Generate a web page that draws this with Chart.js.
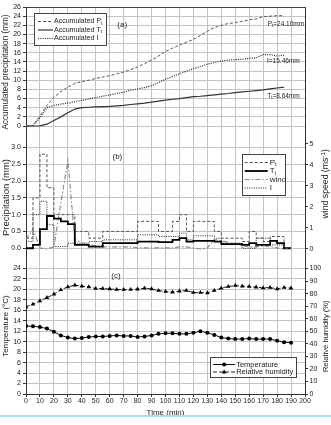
<!DOCTYPE html>
<html>
<head>
<meta charset="utf-8">
<script src="https://cdn.jsdelivr.net/npm/chart.js@4.4.1/dist/chart.umd.min.js"></script>
<style>
  html, body { margin: 0; padding: 0; background: #fff; }
  #wrap { position: relative; width: 331px; height: 425px; }
  #rule { position: absolute; left: 0; top: 415px; width: 331px; height: 2px; background: #abdcea; }
</style>
</head>
<body>
<div id="wrap">
  <canvas id="grafico" width="331" height="425"></canvas>
  <div id="rule"></div>
</div>
<script>
// (a) accumulated precipitation, every 5 min
const timeAcc = [0, 5, 10, 15, 20, 25, 30, 35, 40, 45, 50, 55, 60, 65, 70, 75, 80, 85, 90, 95, 100, 105, 110, 115, 120, 125, 130, 135, 140, 145, 150, 155, 160, 165, 170, 175, 180, 185];
const accP = [0, 0.1, 2.2, 4.5, 6.3, 7.5, 8.5, 9.3, 9.7, 10.0, 10.4, 10.7, 11.0, 11.4, 11.8, 12.3, 12.9, 13.6, 14.4, 15.3, 16.3, 17.0, 17.7, 18.3, 18.9, 19.8, 20.7, 21.5, 22.0, 22.4, 22.6, 22.9, 23.2, 23.4, 23.9, 24.0, 24.1, 24.1];
const accT = [0, 0, 0.05, 0.4, 1.2, 2.0, 2.9, 3.7, 4.0, 4.1, 4.2, 4.25, 4.3, 4.4, 4.5, 4.7, 4.85, 5.0, 5.2, 5.45, 5.65, 5.85, 6.0, 6.2, 6.4, 6.5, 6.65, 6.8, 6.95, 7.1, 7.3, 7.45, 7.6, 7.75, 7.9, 8.1, 8.3, 8.5];
const accI = [0, 0.1, 1.8, 4.0, 4.5, 4.8, 5.0, 5.3, 5.6, 5.9, 6.2, 6.5, 6.8, 7.1, 7.4, 7.8, 8.1, 8.4, 8.8, 9.5, 10.2, 10.8, 11.4, 12.0, 12.5, 13.0, 13.5, 13.9, 14.2, 14.4, 14.5, 14.6, 14.8, 14.9, 15.6, 15.6, 15.3, 15.46];

// (b) precipitation per 5 min interval (value holds from t to t+5) and wind speed
const timeStep = [0, 5, 10, 15, 20, 25, 30, 35, 40, 45, 50, 55, 60, 65, 70, 75, 80, 85, 90, 95, 100, 105, 110, 115, 120, 125, 130, 135, 140, 145, 150, 155, 160, 165, 170, 175, 180, 185, 190];
const stepP = [0.3, 1.5, 2.8, 1.8, 1.0, 1.0, 1.0, 0.5, 0.5, 0.3, 0.3, 0.5, 0.5, 0.5, 0.5, 0.5, 0.8, 0.8, 0.8, 0.5, 0.5, 0.8, 1.0, 0.5, 0.8, 0.8, 0.8, 0.5, 0.3, 0.3, 0.3, 0.2, 0.5, 0.3, 0.2, 0.35, 0.35, 0, 0];
const stepT = [0.0, 0.1, 0.57, 0.96, 0.88, 0.8, 0.72, 0.1, 0.1, 0.05, 0.05, 0.15, 0.15, 0.15, 0.15, 0.15, 0.2, 0.2, 0.2, 0.18, 0.18, 0.25, 0.3, 0.2, 0.22, 0.22, 0.22, 0.2, 0.12, 0.12, 0.12, 0.1, 0.15, 0.1, 0.1, 0.22, 0.15, 0, 0];
const stepI = [0.2, 1.0, 1.4, 0.7, 0.05, 0.05, 0.15, 0.15, 0.15, 0.2, 0.2, 0.25, 0.25, 0.25, 0.25, 0.25, 0.4, 0.4, 0.4, 0.35, 0.35, 0.35, 0.45, 0.25, 0.37, 0.37, 0.37, 0.3, 0.15, 0.15, 0.15, 0, 0, 0.3, 0.3, 0.1, 0.1, 0, 0];
const timeWind = [0, 5, 10, 15, 20, 25, 30, 35, 40, 45, 50, 55, 60, 65, 70, 75, 80, 85, 90, 95, 100, 105, 110, 115, 120, 125, 130, 135, 140, 145, 150, 155, 160, 165, 170, 175, 180, 185];
const wind = [0.45, 0.95, 0.05, 0.0, 0.1, 2.2, 4.2, 0.45, 0.3, 0.2, 0.15, 0.1, 0.1, 0.1, 0.1, 0.1, 0.05, 0.05, 0.05, 0.05, 0.05, 0.05, 0.1, 0.1, 0.05, 0.0, 0.05, 0.45, 0.4, 0.3, 0.25, 0.15, 0.1, 0.1, 0.15, 0.1, 0.05, 0.0];

// (c) temperature and relative humidity
const timeMet = [0, 5, 10, 15, 20, 25, 30, 35, 40, 45, 50, 55, 60, 65, 70, 75, 80, 85, 90, 95, 100, 105, 110, 115, 120, 125, 130, 135, 140, 145, 150, 155, 160, 165, 170, 175, 180, 185, 190];
const temperature = [13.0, 12.95, 12.8, 12.5, 11.9, 11.2, 10.8, 10.6, 10.7, 10.9, 11.0, 11.0, 11.1, 11.2, 11.1, 11.1, 10.9, 11.0, 11.2, 11.5, 11.6, 11.6, 11.5, 11.5, 11.7, 12.0, 11.7, 11.3, 10.8, 10.6, 10.5, 10.5, 10.6, 10.5, 10.5, 10.5, 10.2, 9.9, 9.8];
const humidity = [69.4, 71.5, 74.1, 76.8, 79.5, 83.0, 85.3, 86.7, 85.9, 85.3, 84.0, 84.0, 83.7, 83.2, 83.2, 83.2, 83.5, 84.3, 83.7, 82.4, 81.6, 81.1, 81.9, 82.4, 80.8, 80.8, 80.5, 82.4, 84.3, 85.6, 86.4, 85.9, 85.6, 85.1, 84.5, 84.8, 83.7, 84.8, 84.3];

const FONT = "'Liberation Sans', Arial, sans-serif";
const GRID = '#c4c4c4';
const AXIS = '#333';

const xy = (ts, vs) => ts.map((t, i) => ({ x: t, y: vs[i] }));

// draw text made of pieces, some as sub/superscript
function richText(ctx, parts, x, y, align, size) {
  const fontOf = p => (p[1] ? size * 0.72 : size) + 'px ' + FONT;
  let w = 0;
  parts.forEach(p => { ctx.font = fontOf(p); w += ctx.measureText(p[0]).width; });
  let cx = align === 'right' ? x - w : (align === 'center' ? x - w / 2 : x);
  ctx.textAlign = 'left';
  parts.forEach(p => {
    ctx.font = fontOf(p);
    let dy = 0;
    if (p[1] === 'sub') dy = size * 0.3;
    if (p[1] === 'sup') dy = -size * 0.3;
    ctx.fillText(p[0], cx, y + dy);
    cx += ctx.measureText(p[0]).width;
  });
}

function sample(ctx, ds, x1, x2, y) {
  ctx.save();
  ctx.strokeStyle = ds.borderColor;
  ctx.lineWidth = ds.borderWidth;
  ctx.setLineDash(ds.borderDash || []);
  ctx.beginPath(); ctx.moveTo(x1, y); ctx.lineTo(x2, y); ctx.stroke();
  ctx.setLineDash([]);
  const m = (x1 + x2) / 2;
  ctx.fillStyle = '#000';
  if (ds.pointStyle === 'circle') {
    ctx.beginPath(); ctx.arc(m, y, 2, 0, Math.PI * 2); ctx.fill();
  } else if (ds.pointStyle === 'triangle') {
    ctx.beginPath(); ctx.moveTo(m, y - 2.6); ctx.lineTo(m + 2.4, y + 1.6); ctx.lineTo(m - 2.4, y + 1.6); ctx.closePath(); ctx.fill();
  }
  ctx.restore();
}

function legendBox(ctx, datasets, x, y, w, h, rows, sx1, sx2, tx, size) {
  ctx.save();
  ctx.fillStyle = '#fff';
  ctx.fillRect(x, y, w, h);
  ctx.strokeStyle = '#444';
  ctx.lineWidth = 1;
  ctx.strokeRect(Math.round(x) + 0.5, Math.round(y) + 0.5, Math.round(w), Math.round(h));
  rows.forEach(r => {
    sample(ctx, datasets[r.ds], x + sx1, x + sx2, y + r.dy);
    ctx.fillStyle = '#222';
    ctx.textBaseline = 'middle';
    richText(ctx, r.text, x + tx, y + r.dy, 'left', size);
  });
  ctx.restore();
}

const decor = {
  id: 'decor',
  afterDraw(chart) {
    const ctx = chart.ctx;
    const ca = chart.chartArea;
    const s = chart.scales;
    const ds = chart.data.datasets;
    ctx.save();
    // frame top
    ctx.strokeStyle = '#444';
    ctx.lineWidth = 1;
    ctx.beginPath(); ctx.moveTo(ca.left, Math.round(ca.top) + 0.5); ctx.lineTo(ca.right, Math.round(ca.top) + 0.5); ctx.stroke();

    ctx.fillStyle = '#222';
    ctx.textBaseline = 'middle';
    ctx.textAlign = 'center';
    ctx.font = '8px ' + FONT;
    ctx.fillText('(a)', s.x.getPixelForValue(69), s.yA.top + 18);
    ctx.fillText('(b)', s.x.getPixelForValue(65.5), s.yB.top + 19.5);
    ctx.fillText('(c)', s.x.getPixelForValue(64.5), s.yC.top + 18);

    // totals at line ends
    richText(ctx, [['P'], ['t', 'sub'], ['=24.10mm']], s.x.getPixelForValue(199.4), s.yA.getPixelForValue(22.3), 'right', 6.5);
    richText(ctx, [['I=15.46mm']], s.x.getPixelForValue(196.2), s.yA.getPixelForValue(14.1), 'right', 6.5);
    richText(ctx, [['T'], ['t', 'sub'], ['=8.64mm']], s.x.getPixelForValue(196.2), s.yA.getPixelForValue(6.6), 'right', 6.5);

    // right axis titles (read bottom to top)
    ctx.fillStyle = '#222';
    ctx.save();
    ctx.translate(325.5, s.yBR.getPixelForValue(3.1));
    ctx.rotate(-Math.PI / 2);
    richText(ctx, [['wind speed (ms'], ['-1', 'sup'], [')']], 0, 0, 'center', 8.7);
    ctx.restore();
    ctx.save();
    ctx.translate(325.5, s.yCR.getPixelForValue(46));
    ctx.rotate(-Math.PI / 2);
    richText(ctx, [['Relative humidity (%)']], 0, 0, 'center', 7.6);
    ctx.restore();

    // legends
    legendBox(ctx, ds, ca.left + 8, s.yA.top + 6, 72, 32, [
      { ds: 0, dy: 8.5, text: [['Accumulated P'], ['t', 'sub']] },
      { ds: 1, dy: 17, text: [['Accumulated T'], ['t', 'sub']] },
      { ds: 2, dy: 25.5, text: [['Accumulated I']] }
    ], 4, 19, 20, 7);
    legendBox(ctx, ds, s.x.getPixelForValue(155), s.yB.top + 17, 43, 41, [
      { ds: 3, dy: 8.5, text: [['P'], ['t', 'sub']] },
      { ds: 4, dy: 17, text: [['T'], ['t', 'sub']] },
      { ds: 5, dy: 25.5, text: [['wind']] },
      { ds: 6, dy: 34, text: [['I']] }
    ], 2.5, 25.5, 27.5, 8);
    legendBox(ctx, ds, s.x.getPixelForValue(132), s.yC.top + 99, 86, 20, [
      { ds: 7, dy: 7.5, text: [['Temperature']] },
      { ds: 8, dy: 15, text: [['Relative humidity']] }
    ], 3, 25, 26, 7.5);
    ctx.restore();
  }
};

function keep(lo, hi) {
  return scale => { scale.ticks = scale.ticks.filter(t => t.value >= lo - 1e-6 && t.value <= hi + 1e-6); };
}
function fixWidth(w) {
  return scale => { scale.width = w; scale.paddingTop = 0; scale.paddingBottom = 0; };
}
const tickFont = { family: FONT, size: 7 };

function leftAxis(weight, stackWeight, min, max, step, lo, hi, title, titleSize, fmt) {
  return {
    type: 'linear', position: 'left', stack: 'left', stackWeight: stackWeight, weight: weight,
    min: min, max: max,
    ticks: { stepSize: step, includeBounds: false, autoSkip: false, maxTicksLimit: 100, font: tickFont, color: '#222', padding: 2, callback: fmt || (v => v) },
    afterBuildTicks: keep(lo, hi),
    afterFit: fixWidth(26),
    grid: { color: GRID, tickColor: AXIS, tickLength: 3 },
    border: { color: AXIS },
    title: { display: true, text: title, color: '#222', font: { family: FONT, size: titleSize }, padding: { top: 1, bottom: 0 } }
  };
}
function rightAxis(weight, stackWeight, min, max, step, lo, hi, show) {
  return {
    type: 'linear', position: 'right', stack: 'right', stackWeight: stackWeight, weight: weight,
    min: min, max: max,
    ticks: { display: show, stepSize: step, includeBounds: false, autoSkip: false, maxTicksLimit: 100, font: tickFont, color: '#222', padding: 1.5 },
    afterBuildTicks: keep(lo, hi),
    afterFit: fixWidth(26),
    grid: { drawOnChartArea: false, drawTicks: show, tickColor: AXIS, tickLength: 3 },
    border: { color: AXIS }
  };
}

const ctx = document.getElementById('grafico').getContext('2d');
window.chart = new Chart(ctx, {
  type: 'line',
  data: {
    datasets: [
      { label: 'Accumulated Pt', data: xy(timeAcc, accP), yAxisID: 'yA', borderColor: '#555', borderWidth: 1, borderDash: [3, 2], pointRadius: 0, fill: false },
      { label: 'Accumulated Tt', data: xy(timeAcc, accT), yAxisID: 'yA', borderColor: '#333', borderWidth: 1.2, pointRadius: 0, fill: false },
      { label: 'Accumulated I', data: xy(timeAcc, accI), yAxisID: 'yA', borderColor: '#222', borderWidth: 1.2, borderDash: [1, 1.3], pointRadius: 0, fill: false },
      { label: 'Pt', data: xy(timeStep, stepP), yAxisID: 'yB', stepped: true, borderColor: '#555', borderWidth: 1, borderDash: [3, 2], pointRadius: 0, fill: false },
      { label: 'Tt', data: xy(timeStep, stepT), yAxisID: 'yB', stepped: true, borderColor: '#000', borderWidth: 1.8, pointRadius: 0, fill: false },
      { label: 'wind', data: xy(timeWind, wind), yAxisID: 'yBR', borderColor: '#888', borderWidth: 1.1, borderDash: [5, 2, 1.5, 2], pointRadius: 0, fill: false },
      { label: 'I', data: xy(timeStep, stepI), yAxisID: 'yB', stepped: true, borderColor: '#222', borderWidth: 1, borderDash: [1, 1.3], pointRadius: 0, fill: false },
      { label: 'Temperature', data: xy(timeMet, temperature), yAxisID: 'yC', borderColor: '#111', borderWidth: 1, pointStyle: 'circle', pointRadius: 2, pointBackgroundColor: '#000', pointBorderWidth: 0, fill: false },
      { label: 'Relative humidity', data: xy(timeMet, humidity), yAxisID: 'yCR', borderColor: '#222', borderWidth: 1, borderDash: [4, 2], pointStyle: 'triangle', pointRadius: 2.6, pointBackgroundColor: '#000', pointBorderWidth: 0, fill: false }
    ]
  },
  options: {
    responsive: false,
    animation: false,
    devicePixelRatio: 1,
    layout: { padding: { top: 7, left: 0, right: 0, bottom: 0 } },
    plugins: { legend: { display: false }, tooltip: { enabled: false } },
    scales: {
      x: {
        type: 'linear', position: 'bottom', min: 0, max: 200,
        ticks: { stepSize: 10, autoSkip: false, maxRotation: 0, font: tickFont, color: '#222', padding: 0 },
        afterFit: scale => { scale.height = 31; scale.paddingLeft = 0; scale.paddingRight = 0; },
        grid: { color: GRID, tickColor: AXIS, tickLength: 3 },
        border: { color: AXIS },
        title: { display: true, text: 'Time (min)', color: '#222', font: { family: FONT, size: 8 }, padding: { top: 0, bottom: 7.6 } }
      },
      yA: leftAxis(3, 130, -2.4, 26, 2, 0, 26, 'Accumulated precipitation (mm)', 8.2),
      yB: leftAxis(2, 121, -0.29, 3.31, 0.5, 0, 3.0, 'Precipitation (mm)', 9.5, v => v.toFixed(1)),
      yC: leftAxis(1, 136, 0, 26, 2, 0, 24, 'Temperature (\u00B0C)', 8),
      yAR: rightAxis(1, 130, 0, 1, 1, 0, 1, false),
      yBR: rightAxis(2, 121, -0.43, 5.33, 1, 0, 5, true),
      yCR: rightAxis(3, 136, 0, 108.33, 10, 0, 100, true)
    }
  },
  plugins: [decor]
});
</script>
</body>
</html>
